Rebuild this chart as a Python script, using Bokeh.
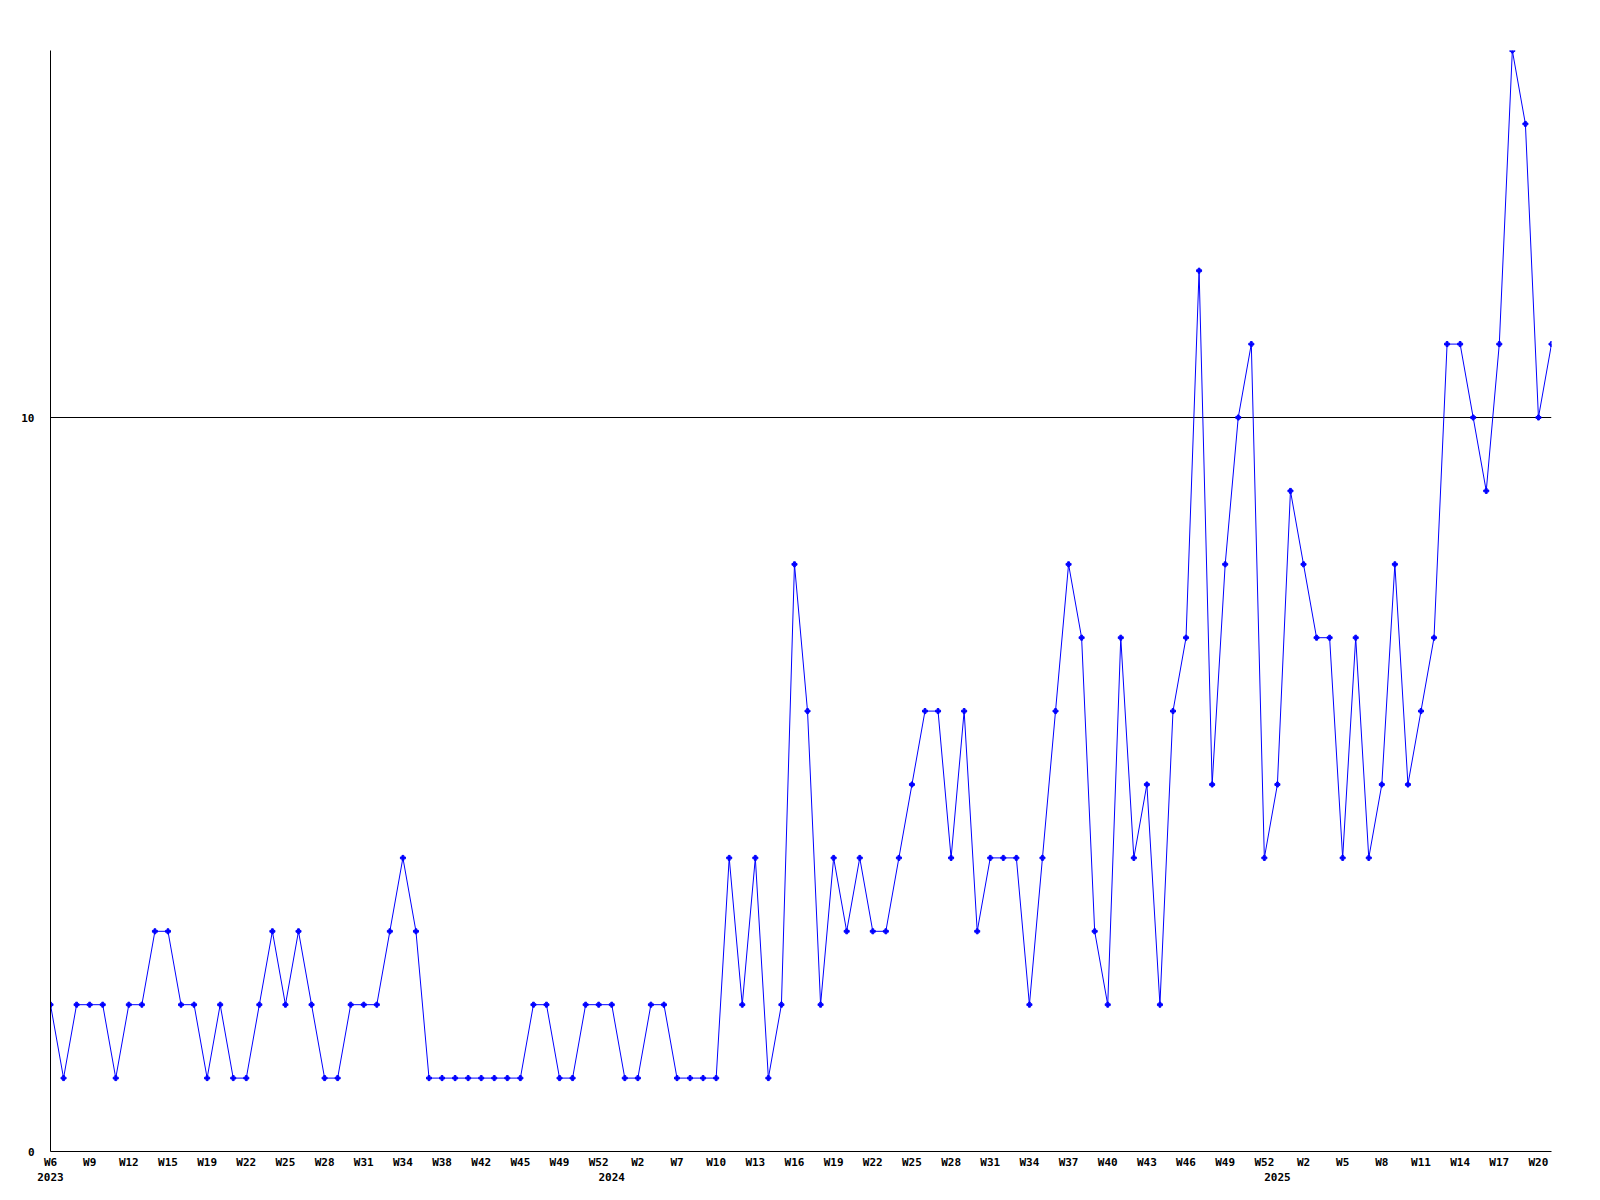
from bokeh.plotting import figure
from bokeh.models import Range1d, FixedTicker, LinearAxis, Grid
from bokeh.embed import file_html
from bokeh.resources import INLINE

# weekly counts, 2023 W6 .. 2025 W21
values = [2, 1, 2, 2, 2, 1, 2, 2, 3, 3,
          2, 2, 1, 2, 1, 1, 2, 3, 2, 3,
          2, 1, 1, 2, 2, 2, 3, 4, 3, 1,
          1, 1, 1, 1, 1, 1, 1, 2, 2, 1,
          1, 2, 2, 2, 1, 1, 2, 2, 1, 1,
          1, 1, 4, 2, 4, 1, 2, 8, 6, 2,
          4, 3, 4, 3, 3, 4, 5, 6, 6, 4,
          6, 3, 4, 4, 4, 2, 4, 6, 8, 7,
          3, 2, 7, 4, 5, 2, 6, 7, 12, 5,
          8, 10, 11, 4, 5, 9, 8, 7, 7, 4,
          7, 4, 5, 8, 5, 6, 7, 11, 11, 10,
          9, 11, 15, 14, 10, 11]
x_idx = list(range(len(values)))

week_labels = ["W6", "W9", "W12", "W15", "W19", "W22", "W25", "W28", "W31", "W34",
               "W38", "W42", "W45", "W49", "W52", "W2", "W7", "W10", "W13", "W16",
               "W19", "W22", "W25", "W28", "W31", "W34", "W37", "W40", "W43", "W46",
               "W49", "W52", "W2", "W5", "W8", "W11", "W14", "W17", "W20"]
week_ticks = [3 * k for k in range(len(week_labels))]
year_labels = ["2023", "2024", "2025"]
year_ticks = [0, 43, 94]
y_ticks = [0, 10]

FONT = "DejaVu Sans Mono"
FSIZE = "11px"

p = figure(frame_width=1501, frame_height=1101,
           x_range=Range1d(0, 115), y_range=Range1d(0, 15),
           x_axis_type=None, y_axis_type=None,
           output_backend="svg", toolbar_location=None,
           min_border_left=50, min_border_top=50, min_border_right=30, min_border_bottom=10,
           outline_line_color=None, background_fill_color="white", border_fill_color="white")

ax1 = LinearAxis(ticker=FixedTicker(ticks=week_ticks),
                 major_label_overrides={t: l for t, l in zip(week_ticks, week_labels)},
                 axis_line_color="black", axis_line_width=1,
                 major_tick_line_color=None, minor_tick_line_color=None,
                 major_tick_out=0, major_tick_in=0, major_label_standoff=4,
                 major_label_text_font=FONT, major_label_text_font_style="bold",
                 major_label_text_font_size=FSIZE, major_label_text_color="black")
ax2 = LinearAxis(ticker=FixedTicker(ticks=year_ticks),
                 major_label_overrides={t: l for t, l in zip(year_ticks, year_labels)},
                 axis_line_color=None,
                 major_tick_line_color=None, minor_tick_line_color=None,
                 major_tick_out=0, major_tick_in=0, major_label_standoff=1,
                 major_label_text_font=FONT, major_label_text_font_style="bold",
                 major_label_text_font_size=FSIZE, major_label_text_color="black")
ay = LinearAxis(ticker=FixedTicker(ticks=y_ticks),
                axis_line_color="black", axis_line_width=1,
                major_tick_line_color=None, minor_tick_line_color=None,
                major_tick_out=0, major_tick_in=0, major_label_standoff=16,
                major_label_text_font=FONT, major_label_text_font_style="bold",
                major_label_text_font_size=FSIZE, major_label_text_color="black")
p.add_layout(ax1, "below")
p.add_layout(ax2, "below")
p.add_layout(ay, "left")

p.add_layout(Grid(dimension=1, ticker=FixedTicker(ticks=[10]),
                  grid_line_color="black", grid_line_width=1))

p.line(x_idx, values, line_color="#0000ff", line_width=1)
p.scatter(x_idx, values, marker="plus", size=5, color="#0000ff")

open("out.html", "w").write(file_html(p, INLINE))
